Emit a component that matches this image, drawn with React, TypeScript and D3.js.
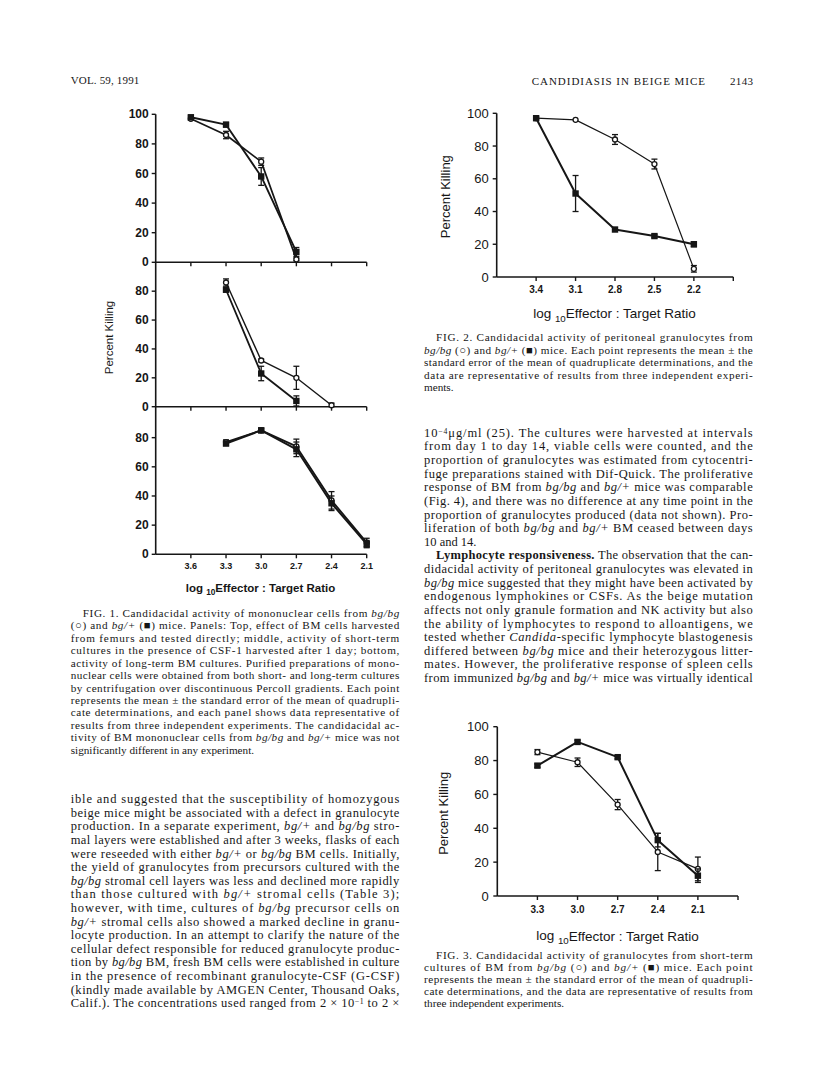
import React from "react";
import * as d3 from "d3";

// ---------------- DATA ----------------
// Figure 1 (three stacked panels)
const fig1Ticks = [3.6, 3.3, 3.0, 2.7, 2.4, 2.1];
const fig1TickLabels = ["3.6", "3.3", "3.0", "2.7", "2.4", "2.1"];
const fig1TopYTicks = [0, 20, 40, 60, 80, 100];
const fig1SubYTicks = [0, 20, 40, 60, 80];

const fig1TopX = [3.6, 3.3, 3.0, 2.7];
const fig1TopBgbg = [97, 86, 68, 2];
const fig1TopBgbgErr = [1, 2.5, 2.5, 1];
const fig1TopBgplus = [98, 93, 58, 7];
const fig1TopBgplusErr = [1, 1.5, 6, 3];

const fig1MidBgbgX = [3.3, 3.0, 2.7, 2.4];
const fig1MidBgbg = [86, 32, 20, 1];
const fig1MidBgbgErr = [2.5, 1, 8, 1.5];
const fig1MidBgplusX = [3.3, 3.0, 2.7];
const fig1MidBgplus = [81, 23, 4];
const fig1MidBgplusErr = [1.5, 5, 3.5];

const fig1BotX = [3.3, 3.0, 2.7, 2.4, 2.1];
const fig1BotBgbg = [77, 85, 74, 37, 8];
const fig1BotBgbgErr = [1.5, 1.5, 5, 6, 3];
const fig1BotBgplus = [76, 85, 72, 35, 7];
const fig1BotBgplusErr = [1.5, 1.5, 5, 5, 2.5];

// Figure 2
const fig2Ticks = [3.4, 3.1, 2.8, 2.5, 2.2, 1.9];
const fig2TickLabels = ["3.4", "3.1", "2.8", "2.5", "2.2", ""];
const fig2X = [3.4, 3.1, 2.8, 2.5, 2.2];
const fig2Bgbg = [97, 96, 84, 69, 5];
const fig2BgbgErr = [0.5, 0.5, 3, 3, 2];
const fig2Bgplus = [97, 51, 29, 25, 20];
const fig2BgplusErr = [1, 11, 1, 1, 1.5];

// Figure 3
const fig3Ticks = [3.3, 3.0, 2.7, 2.4, 2.1, 1.8];
const fig3TickLabels = ["3.3", "3.0", "2.7", "2.4", "2.1", ""];
const fig3X = [3.3, 3.0, 2.7, 2.4, 2.1];
const fig3Bgbg = [85, 79, 54, 26, 16];
const fig3BgbgErr = [1.5, 2.5, 3, 11, 7];
const fig3Bgplus = [77, 91, 82, 33, 12];
const fig3BgplusErr = [1, 1, 1, 4, 4];

const yTicks100 = [0, 20, 40, 60, 80, 100];

// ---------------- TEXT ----------------
const headerLeft = "VOL. 59, 1991";
const headerCenter = "CANDIDIASIS IN BEIGE MICE";
const headerPage = "2143";
const yAxisTitle = "Percent Killing";

const fig1Caption = [
  "FIG. 1. Candidacidal activity of mononuclear cells from _bg/bg_",
  "(○) and _bg/+_ (■) mice. Panels: Top, effect of BM cells harvested",
  "from femurs and tested directly; middle, activity of short-term",
  "cultures in the presence of CSF-1 harvested after 1 day; bottom,",
  "activity of long-term BM cultures. Purified preparations of mono-",
  "nuclear cells were obtained from both short- and long-term cultures",
  "by centrifugation over discontinuous Percoll gradients. Each point",
  "represents the mean ± the standard error of the mean of quadrupli-",
  "cate determinations, and each panel shows data representative of",
  "results from three independent experiments. The candidacidal ac-",
  "tivity of BM mononuclear cells from _bg/bg_ and _bg/+_ mice was not",
  "significantly different in any experiment.",
];

const fig2Caption = [
  "FIG. 2. Candidacidal activity of peritoneal granulocytes from",
  "_bg/bg_ (○) and _bg/+_ (■) mice. Each point represents the mean ± the",
  "standard error of the mean of quadruplicate determinations, and the",
  "data are representative of results from three independent experi-",
  "ments.",
];

const fig3Caption = [
  "FIG. 3. Candidacidal activity of granulocytes from short-term",
  "cultures of BM from _bg/bg_ (○) and _bg/+_ (■) mice. Each point",
  "represents the mean ± the standard error of the mean of quadrupli-",
  "cate determinations, and the data are representative of results from",
  "three independent experiments.",
];

const leftBody = [
  "ible and suggested that the susceptibility of homozygous",
  "beige mice might be associated with a defect in granulocyte",
  "production. In a separate experiment, _bg/+_ and _bg/bg_ stro-",
  "mal layers were established and after 3 weeks, flasks of each",
  "were reseeded with either _bg/+_ or _bg/bg_ BM cells. Initially,",
  "the yield of granulocytes from precursors cultured with the",
  "_bg/bg_ stromal cell layers was less and declined more rapidly",
  "than those cultured with _bg/+_ stromal cells (Table 3);",
  "however, with time, cultures of _bg/bg_ precursor cells on",
  "_bg/+_ stromal cells also showed a marked decline in granu-",
  "locyte production. In an attempt to clarify the nature of the",
  "cellular defect responsible for reduced granulocyte produc-",
  "tion by _bg/bg_ BM, fresh BM cells were established in culture",
  "in the presence of recombinant granulocyte-CSF (G-CSF)",
  "(kindly made available by AMGEN Center, Thousand Oaks,",
  "Calif.). The concentrations used ranged from 2 × 10^−1^ to 2 ×",
];

const rightBody = [
  "10^−4^μg/ml (25). The cultures were harvested at intervals",
  "from day 1 to day 14, viable cells were counted, and the",
  "proportion of granulocytes was estimated from cytocentri-",
  "fuge preparations stained with Dif-Quick. The proliferative",
  "response of BM from _bg/bg_ and _bg/+_ mice was comparable",
  "(Fig. 4), and there was no difference at any time point in the",
  "proportion of granulocytes produced (data not shown). Pro-",
  "liferation of both _bg/bg_ and _bg/+_ BM ceased between days",
  "10 and 14.",
  "**Lymphocyte responsiveness.** The observation that the can-",
  "didacidal activity of peritoneal granulocytes was elevated in",
  "_bg/bg_ mice suggested that they might have been activated by",
  "endogenous lymphokines or CSFs. As the beige mutation",
  "affects not only granule formation and NK activity but also",
  "the ability of lymphocytes to respond to alloantigens, we",
  "tested whether _Candida_-specific lymphocyte blastogenesis",
  "differed between _bg/bg_ mice and their heterozygous litter-",
  "mates. However, the proliferative response of spleen cells",
  "from immunized _bg/bg_ and _bg/+_ mice was virtually identical",
];

// ---------------- HELPERS ----------------
const SERIF = "'Liberation Serif', 'Times New Roman', serif";
const SANS = "'Liberation Sans', Arial, Helvetica, sans-serif";
const INK = "#161616";

type Seg = { t: string; it?: boolean; b?: boolean; sup?: boolean };
function parse(s: string): Seg[] {
  const out: Seg[] = [];
  const re = /(\*\*[^*]+\*\*|_[^_]+_|\^[^^]+\^)/g;
  let last = 0;
  let m: RegExpExecArray | null;
  while ((m = re.exec(s))) {
    if (m.index > last) out.push({ t: s.slice(last, m.index) });
    const tok = m[0];
    if (tok.startsWith("**")) out.push({ t: tok.slice(2, -2), b: true });
    else if (tok.startsWith("_")) out.push({ t: tok.slice(1, -1), it: true });
    else out.push({ t: tok.slice(1, -1), sup: true });
    last = m.index + tok.length;
  }
  if (last < s.length) out.push({ t: s.slice(last) });
  return out;
}

function TextLine({ x, y, w, s, size, justify }: any) {
  const segs = parse(s);
  const kids = segs.map((g, i) => (
    <tspan
      key={i}
      baselineShift={g.sup ? "35%" : undefined}
      fontStyle={g.it ? "italic" : undefined}
      fontWeight={g.b ? "bold" : undefined}
      fontSize={g.sup ? size * 0.62 : undefined}
    >
      {g.t}
    </tspan>
  ));
  return (
    <text
      x={x}
      y={y}
      fontSize={size}
      fontFamily={SERIF}
      fill={INK}
      textLength={justify ? w : undefined}
      lengthAdjust="spacing"
      style={{ whiteSpace: "pre" }}
    >
      {kids}
    </text>
  );
}

function TextBlock({ lines, x, w, y0, dy, size, indentIdx = [], raggedIdx = [], indent = 12 }: any) {
  return (
    <g>
      {lines.map((s: string, i: number) => {
        const ind = indentIdx.includes(i) ? indent : 0;
        return (
          <TextLine
            key={i}
            x={x + ind}
            y={y0 + i * dy + size * 0.33}
            w={w - ind}
            s={s}
            size={size}
            justify={!raggedIdx.includes(i)}
          />
        );
      })}
    </g>
  );
}

function Series({ xs, ys, errs, x, y, filled, lw }: any) {
  const line = d3
    .line<number>()
    .x((_, i) => x(xs[i]))
    .y((d) => y(d));
  return (
    <g>
      <path d={line(ys) || ""} fill="none" stroke={INK} strokeWidth={lw} strokeLinejoin="round" />
      {ys.map((v: number, i: number) => {
        const e = errs[i];
        if (!e || e < 1) return null;
        const cx = x(xs[i]);
        const lo = y(Math.max(0, v - e));
        const hi = y(v + e);
        return (
          <g key={"e" + i} stroke={INK} strokeWidth={1.3}>
            <line x1={cx} x2={cx} y1={lo} y2={hi} />
            <line x1={cx - 3} x2={cx + 3} y1={lo} y2={lo} />
            <line x1={cx - 3} x2={cx + 3} y1={hi} y2={hi} />
          </g>
        );
      })}
      {ys.map((v: number, i: number) =>
        filled ? (
          <rect key={"m" + i} x={x(xs[i]) - 3.2} y={y(v) - 3.2} width={6.4} height={6.4} fill={INK} />
        ) : (
          <circle key={"m" + i} cx={x(xs[i])} cy={y(v)} r={2.5} fill="#fff" stroke={INK} strokeWidth={1.3} />
        )
      )}
    </g>
  );
}

function XAxis({ x, y0, ticks, labels, labelSize, labelDy }: any) {
  const [r0, r1] = x.range();
  return (
    <g>
      <line x1={r0} x2={r1} y1={y0} y2={y0} stroke={INK} strokeWidth={1.6} />
      {ticks.map((t: number, i: number) => (
        <line key={"t" + i} x1={x(t)} x2={x(t)} y1={y0} y2={y0 + 4} stroke={INK} strokeWidth={1.4} />
      ))}
      {labels
        ? ticks.map((t: number, i: number) =>
            labels[i] ? (
              <text
                key={"l" + i}
                x={x(t)}
                y={y0 + labelDy}
                textAnchor="middle"
                dominantBaseline="central"
                fontFamily={SANS}
                fontWeight="bold"
                fontSize={labelSize}
                fill={INK}
              >
                {labels[i]}
              </text>
            ) : null
          )
        : null}
    </g>
  );
}

function YTicks({ y, xAxis, ticks, labelSize, gap, bold }: any) {
  return (
    <g>
      {ticks.map((t: number, i: number) => (
        <g key={i}>
          <line x1={xAxis - 4} x2={xAxis} y1={y(t)} y2={y(t)} stroke={INK} strokeWidth={1.4} />
          <text
            x={xAxis - gap}
            y={y(t)}
            textAnchor="end"
            dominantBaseline="central"
            fontFamily={SANS}
            fontWeight={bold ? "bold" : "normal"}
            fontSize={labelSize}
            fill={INK}
          >
            {t}
          </text>
        </g>
      ))}
    </g>
  );
}

function XTitle({ cx, cy, size, bold }: any) {
  return (
    <text
      x={cx}
      y={cy}
      textAnchor="middle"
      dominantBaseline="central"
      fontFamily={SANS}
      fontSize={size}
      fontWeight={bold ? "bold" : "normal"}
      fill={INK}
    >
      log <tspan dy={size * 0.35} fontSize={size * 0.72}>10</tspan>
      <tspan dy={-size * 0.35}>Effector : Target Ratio</tspan>
    </text>
  );
}

function YTitle({ cx, cy, size, bold }: any) {
  return (
    <text
      transform={`translate(${cx},${cy}) rotate(-90)`}
      textAnchor="middle"
      dominantBaseline="central"
      fontFamily={SANS}
      fontSize={size}
      fontWeight={bold ? "bold" : "normal"}
      fill={INK}
    >
      {yAxisTitle}
    </text>
  );
}

// ---------------- FIGURES ----------------
function Figure1() {
  const x = d3.scaleLinear().domain([3.9, 2.1]).range([155.7, 366.7]);
  const yTop = d3.scaleLinear().domain([0, 100]).range([262.3, 114.3]);
  const yMid = d3.scaleLinear().domain([0, 100]).range([406.7, 262.3]);
  const yBot = d3.scaleLinear().domain([0, 100]).range([554.3, 408.5]);
  return (
    <g>
      <line x1={x(3.9)} x2={x(3.9)} y1={yTop(100)} y2={yBot(0)} stroke={INK} strokeWidth={1.6} />
      <YTicks y={yTop} xAxis={x(3.9)} ticks={fig1TopYTicks} labelSize={12} gap={7} bold />
      <YTicks y={yMid} xAxis={x(3.9)} ticks={fig1SubYTicks} labelSize={12} gap={7} bold />
      <YTicks y={yBot} xAxis={x(3.9)} ticks={fig1SubYTicks} labelSize={12} gap={7} bold />
      <XAxis x={x} y0={yTop(0)} ticks={fig1Ticks} />
      <XAxis x={x} y0={yMid(0)} ticks={fig1Ticks} />
      <XAxis x={x} y0={yBot(0)} ticks={fig1Ticks} labels={fig1TickLabels} labelSize={9} labelDy={12} />
      <Series xs={fig1TopX} ys={fig1TopBgbg} errs={fig1TopBgbgErr} x={x} y={yTop} lw={1.7} />
      <Series xs={fig1TopX} ys={fig1TopBgplus} errs={fig1TopBgplusErr} x={x} y={yTop} lw={1.9} filled />
      <Series xs={fig1MidBgbgX} ys={fig1MidBgbg} errs={fig1MidBgbgErr} x={x} y={yMid} lw={1.4} />
      <Series xs={fig1MidBgplusX} ys={fig1MidBgplus} errs={fig1MidBgplusErr} x={x} y={yMid} lw={1.8} filled />
      <Series xs={fig1BotX} ys={fig1BotBgbg} errs={fig1BotBgbgErr} x={x} y={yBot} lw={1.8} />
      <Series xs={fig1BotX} ys={fig1BotBgplus} errs={fig1BotBgplusErr} x={x} y={yBot} lw={2} filled />
      <YTitle cx={108.5} cy={337.5} size={11.5} />
      <XTitle cx={260.5} cy={588} size={11.5} bold />
    </g>
  );
}

function Figure2() {
  const x = d3.scaleLinear().domain([3.7, 1.9]).range([496.7, 733.3]);
  const y = d3.scaleLinear().domain([0, 100]).range([277, 113.3]);
  return (
    <g>
      <line x1={x(3.7)} x2={x(3.7)} y1={y(100)} y2={y(0)} stroke={INK} strokeWidth={1.6} />
      <YTicks y={y} xAxis={x(3.7)} ticks={yTicks100} labelSize={13} gap={8} />
      <XAxis x={x} y0={y(0)} ticks={fig2Ticks} labels={fig2TickLabels} labelSize={10} labelDy={12.5} />
      <Series xs={fig2X} ys={fig2Bgbg} errs={fig2BgbgErr} x={x} y={y} lw={1.2} />
      <Series xs={fig2X} ys={fig2Bgplus} errs={fig2BgplusErr} x={x} y={y} lw={2} filled />
      <YTitle cx={445} cy={196.7} size={13} />
      <XTitle cx={614.5} cy={313} size={13.5} />
    </g>
  );
}

function Figure3() {
  const x = d3.scaleLinear().domain([3.6, 1.8]).range([497.3, 738]);
  const y = d3.scaleLinear().domain([0, 100]).range([896, 726.7]);
  return (
    <g>
      <line x1={x(3.6)} x2={x(3.6)} y1={y(100)} y2={y(0)} stroke={INK} strokeWidth={1.6} />
      <YTicks y={y} xAxis={x(3.6)} ticks={yTicks100} labelSize={13} gap={8.5} />
      <XAxis x={x} y0={y(0)} ticks={fig3Ticks} labels={fig3TickLabels} labelSize={10} labelDy={13} />
      <Series xs={fig3X} ys={fig3Bgbg} errs={fig3BgbgErr} x={x} y={y} lw={1.2} />
      <Series xs={fig3X} ys={fig3Bgplus} errs={fig3BgplusErr} x={x} y={y} lw={2} filled />
      <YTitle cx={443.5} cy={813.3} size={13} />
      <XTitle cx={617.5} cy={935.7} size={13.5} />
    </g>
  );
}

export default function App() {
  return (
    <svg
      width={816}
      height={1082}
      viewBox="0 0 816 1082"
      style={{ position: "absolute", left: 0, top: 0, background: "#fff" }}
    >
      <rect x={0} y={0} width={816} height={1082} fill="#fff" />
      {/* header */}
      <text x={70.7} y={83.5} fontFamily={SERIF} fontSize={11} fill={INK} textLength={68.6} lengthAdjust="spacing">
        {headerLeft}
      </text>
      <text x={531.7} y={84.5} fontFamily={SERIF} fontSize={11} fill={INK} textLength={173.3} lengthAdjust="spacing">
        {headerCenter}
      </text>
      <text x={730} y={84.5} fontFamily={SERIF} fontSize={11} fill={INK} textLength={23} lengthAdjust="spacing">
        {headerPage}
      </text>

      <Figure1 />
      <Figure2 />
      <Figure3 />

      <TextBlock lines={fig1Caption} x={70.7} w={328.6} y0={613.3} dy={12.42} size={11.2} indentIdx={[0]} raggedIdx={[11]} />
      <TextBlock lines={leftBody} x={70.7} w={328.6} y0={799} dy={13.6} size={12.5} />
      <TextBlock lines={fig2Caption} x={424} w={328.7} y0={337.3} dy={12.6} size={11.2} indentIdx={[0]} raggedIdx={[4]} />
      <TextBlock lines={rightBody} x={424} w={328.7} y0={432.7} dy={13.62} size={12.5} indentIdx={[9]} raggedIdx={[8]} />
      <TextBlock lines={fig3Caption} x={424} w={328.7} y0={955} dy={12.1} size={11.2} indentIdx={[0]} raggedIdx={[4]} />
    </svg>
  );
}
